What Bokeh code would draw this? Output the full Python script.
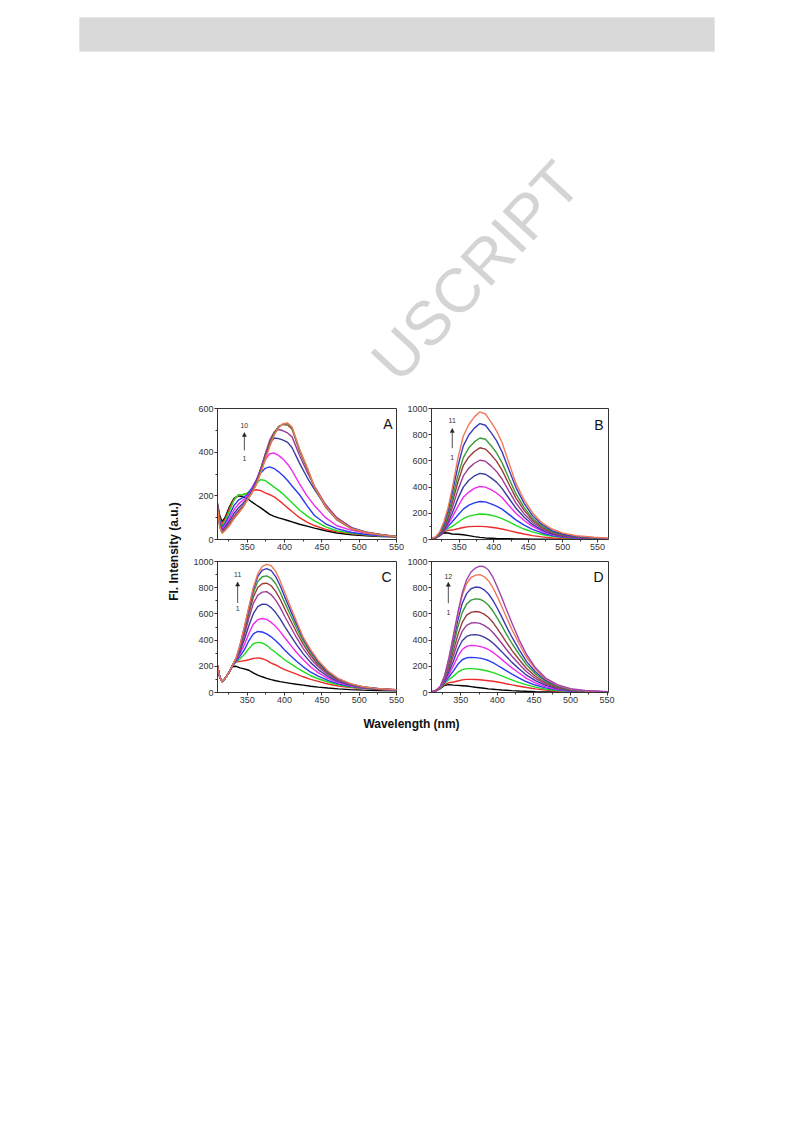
from bokeh.plotting import figure
from bokeh.layouts import column, row
from bokeh.models import Range1d, Label, Arrow, NormalHead, SingleIntervalTicker
from bokeh.embed import file_html
from bokeh.resources import INLINE

# ---------------- data ----------------
WL_A = [310, 313, 316, 320, 326, 332, 338, 344, 350, 356, 362, 368, 374, 380, 386, 392, 398, 404, 410, 420, 430, 440, 455, 470, 490, 510, 530, 550]
A1 = [165, 110, 82, 100, 150, 188, 200, 195, 188, 172, 158, 145, 130, 115, 106, 99, 93, 87, 81, 70, 61, 52, 40, 30, 22, 17, 14, 12]
A2 = [160, 100, 72, 92, 142, 185, 202, 205, 212, 222, 228, 224, 214, 205, 195, 180, 163, 145, 128, 100, 80, 64, 46, 35, 26, 20, 16, 12]
A3 = [158, 92, 62, 82, 130, 180, 205, 205, 212, 232, 258, 274, 270, 255, 240, 225, 208, 188, 168, 135, 108, 85, 58, 40, 28, 21, 16, 12]
A4 = [155, 85, 55, 72, 112, 155, 180, 192, 205, 235, 272, 305, 326, 333, 325, 310, 292, 270, 245, 205, 155, 110, 72, 50, 32, 23, 17, 12]
A5 = [152, 78, 48, 62, 98, 135, 162, 180, 198, 228, 272, 322, 365, 393, 396, 385, 368, 345, 315, 255, 200, 155, 100, 63, 42, 28, 19, 13]
A6 = [150, 72, 42, 55, 85, 118, 145, 165, 190, 222, 268, 325, 390, 440, 465, 462, 455, 445, 420, 350, 285, 230, 153, 98, 54, 33, 22, 14]
A7 = [148, 66, 36, 48, 75, 105, 132, 155, 185, 218, 262, 322, 392, 455, 492, 504, 498, 488, 470, 385, 310, 245, 160, 100, 52, 34, 22, 14]
A8 = [146, 62, 32, 44, 68, 98, 125, 150, 182, 214, 255, 310, 375, 440, 490, 518, 527, 524, 505, 405, 325, 238, 148, 90, 48, 31, 21, 13]
A9 = [145, 60, 30, 42, 66, 96, 122, 148, 182, 213, 253, 307, 370, 432, 484, 516, 529, 531, 510, 410, 330, 240, 150, 92, 48, 31, 21, 13]
A10 = [144, 58, 28, 40, 64, 94, 120, 146, 182, 212, 250, 304, 364, 425, 478, 512, 530, 534, 515, 415, 332, 242, 152, 93, 49, 31, 21, 13]

WL_B = [310, 316, 322, 328, 334, 340, 348, 356, 364, 372, 380, 388, 396, 404, 412, 422, 432, 444, 456, 470, 485, 500, 520, 545, 566]
B1 = [8, 10, 30, 52, 50, 42, 40, 36, 30, 22, 16, 12, 10, 8, 7, 6, 5, 4, 3, 3, 2, 2, 2, 1, 1]
B2 = [8, 12, 32, 60, 70, 72, 82, 92, 98, 100, 100, 98, 94, 88, 80, 68, 55, 42, 30, 20, 12, 8, 5, 3, 2]
B3 = [8, 12, 35, 65, 85, 100, 130, 160, 178, 188, 195, 193, 185, 175, 160, 135, 108, 80, 58, 38, 24, 15, 9, 5, 3]
B4 = [8, 12, 35, 65, 100, 135, 185, 232, 262, 280, 290, 287, 272, 255, 232, 192, 150, 110, 78, 50, 30, 18, 10, 6, 4]
B5 = [8, 12, 35, 68, 115, 170, 250, 322, 362, 390, 405, 400, 380, 355, 320, 260, 200, 145, 100, 63, 38, 22, 12, 7, 4]
B6 = [8, 13, 36, 72, 130, 200, 310, 400, 452, 485, 505, 498, 470, 438, 390, 315, 240, 170, 115, 72, 42, 25, 14, 8, 5]
B7 = [8, 14, 38, 80, 150, 240, 375, 485, 545, 582, 605, 598, 562, 520, 462, 370, 280, 195, 132, 82, 48, 28, 16, 9, 6]
B8 = [8, 15, 42, 90, 170, 280, 435, 565, 630, 672, 700, 690, 648, 598, 530, 422, 318, 222, 148, 92, 54, 32, 18, 10, 6]
B9 = [8, 16, 45, 100, 190, 310, 485, 625, 700, 745, 775, 765, 718, 662, 587, 466, 350, 243, 162, 100, 58, 35, 20, 11, 7]
B10 = [8, 18, 52, 118, 220, 355, 555, 715, 798, 850, 885, 872, 818, 755, 670, 532, 398, 276, 184, 113, 66, 40, 23, 13, 8]
B11 = [8, 20, 60, 135, 245, 390, 615, 790, 878, 936, 975, 958, 898, 830, 740, 585, 430, 302, 205, 127, 78, 49, 29, 17, 10]

WL_C = [310, 313, 316, 320, 325, 330, 335, 340, 346, 352, 358, 364, 370, 376, 382, 388, 394, 400, 408, 416, 425, 435, 445, 458, 472, 488, 505, 525, 550]
C1 = [205, 120, 82, 105, 150, 198, 200, 188, 180, 170, 150, 133, 120, 108, 98, 90, 83, 77, 70, 63, 56, 48, 41, 34, 28, 22, 18, 15, 13]
C2 = [205, 120, 82, 105, 150, 205, 232, 238, 242, 250, 260, 264, 258, 245, 225, 210, 192, 175, 158, 140, 120, 100, 85, 65, 50, 38, 30, 23, 18]
C3 = [205, 120, 82, 105, 150, 205, 235, 255, 290, 335, 372, 383, 378, 360, 330, 305, 278, 250, 220, 190, 160, 128, 105, 80, 58, 42, 32, 24, 18]
C4 = [205, 120, 82, 105, 150, 205, 240, 275, 325, 395, 448, 466, 462, 448, 425, 395, 362, 325, 280, 238, 196, 155, 125, 92, 66, 47, 34, 25, 19]
C5 = [205, 120, 82, 105, 150, 205, 245, 292, 365, 450, 522, 556, 565, 558, 535, 505, 465, 420, 362, 305, 250, 195, 152, 108, 75, 52, 36, 26, 19]
C6 = [205, 120, 82, 105, 150, 205, 250, 310, 405, 510, 602, 655, 675, 672, 648, 610, 562, 505, 435, 365, 295, 228, 175, 122, 83, 56, 38, 27, 20]
C7 = [205, 120, 82, 105, 150, 205, 255, 325, 438, 565, 680, 742, 766, 770, 746, 705, 650, 582, 500, 418, 335, 258, 196, 135, 90, 59, 40, 28, 20]
C8 = [205, 120, 82, 105, 150, 205, 258, 338, 462, 602, 728, 802, 830, 835, 815, 772, 712, 640, 550, 460, 368, 282, 212, 145, 96, 62, 41, 29, 20]
C9 = [205, 120, 82, 105, 150, 205, 260, 348, 482, 628, 762, 848, 884, 890, 872, 830, 765, 688, 590, 492, 392, 300, 225, 153, 100, 64, 42, 29, 20]
C10 = [205, 120, 82, 105, 150, 205, 262, 355, 494, 642, 787, 885, 934, 945, 930, 885, 815, 732, 625, 520, 410, 316, 235, 158, 103, 66, 43, 30, 21]
C11 = [205, 120, 82, 105, 150, 205, 265, 360, 502, 652, 802, 905, 962, 978, 968, 925, 852, 765, 652, 542, 420, 325, 245, 165, 107, 68, 44, 30, 21]

WL_D = [310, 316, 322, 328, 334, 340, 346, 352, 358, 364, 370, 376, 382, 388, 394, 400, 406, 412, 420, 430, 440, 452, 466, 482, 500, 520, 552]
D1 = [5, 12, 30, 55, 60, 56, 54, 52, 50, 45, 40, 36, 32, 28, 25, 22, 19, 17, 14, 11, 9, 7, 5, 4, 3, 2, 1]
D2 = [5, 12, 32, 62, 75, 80, 88, 96, 100, 100, 99, 97, 94, 90, 86, 80, 74, 67, 58, 48, 38, 28, 18, 11, 6, 3, 2]
D3 = [5, 13, 35, 70, 100, 125, 155, 175, 182, 182, 180, 176, 170, 162, 152, 140, 127, 113, 96, 76, 58, 41, 26, 15, 8, 4, 2]
D4 = [5, 13, 38, 78, 120, 165, 215, 250, 265, 268, 266, 262, 255, 244, 228, 208, 188, 167, 141, 110, 82, 57, 35, 20, 10, 5, 3]
D5 = [5, 14, 40, 85, 140, 205, 275, 328, 352, 360, 358, 352, 342, 328, 306, 280, 253, 224, 188, 147, 108, 74, 45, 25, 13, 6, 3]
D6 = [5, 14, 42, 92, 160, 240, 330, 395, 428, 440, 442, 436, 422, 404, 378, 345, 312, 276, 230, 180, 132, 90, 54, 30, 15, 7, 3]
D7 = [5, 14, 43, 100, 180, 280, 385, 468, 512, 530, 533, 528, 512, 490, 458, 418, 376, 332, 277, 215, 158, 107, 64, 35, 17, 8, 4]
D8 = [5, 15, 44, 108, 200, 320, 440, 535, 590, 612, 618, 614, 598, 572, 535, 488, 438, 387, 322, 250, 183, 124, 74, 40, 19, 9, 4]
D9 = [5, 15, 44, 115, 225, 360, 500, 610, 675, 705, 715, 712, 695, 666, 622, 568, 510, 450, 374, 290, 211, 142, 84, 45, 21, 10, 4]
D10 = [5, 15, 45, 120, 245, 395, 550, 680, 755, 792, 805, 802, 784, 752, 703, 643, 577, 509, 422, 326, 236, 158, 93, 50, 24, 11, 5]
D11 = [5, 15, 45, 125, 260, 425, 595, 740, 830, 878, 895, 900, 885, 852, 800, 732, 657, 580, 480, 370, 267, 178, 104, 55, 26, 12, 5]
D12 = [5, 15, 45, 130, 270, 440, 610, 760, 860, 920, 950, 965, 960, 935, 880, 805, 725, 640, 530, 400, 290, 190, 110, 60, 30, 15, 6]

COLORS = ["#000000", "#ee2b2b", "#1fdc1f", "#2b3bf0", "#f227f2", "#3a3a9e",
          "#9a3d9a", "#9c3b3b", "#3a9a3a", "#3a3ab8", "#f0785a", "#9e44b0"]
COLORS_A = ["#000000", "#ee2b2b", "#1fdc1f", "#2b3bf0", "#f227f2", "#3a3a9e",
            "#9a3d9a", "#9c3b3b", "#3a9a3a", "#f0785a"]

PANEL_LETTERS = ["A", "B", "C", "D"]
ARROW_TOP_LABELS = ["10", "11", "11", "12"]
ARROW_BOTTOM_LABEL = "1"
X_LABEL = "Wavelength (nm)"
Y_LABEL = "Fl. Intensity (a.u.)"
WATERMARK = "USCRIPT"

FONT = "Liberation Sans"


def make_panel(wl, curves, colors, x_end, y_end, width, height, bl, br, bt, bb,
               letter, letter_xy, arr_x, arr_top_lbl, arr_ys):
    p = figure(width=width, height=height, x_range=Range1d(310, x_end),
               y_range=Range1d(0, y_end), output_backend="svg",
               toolbar_location=None, min_border_left=bl, min_border_right=br,
               min_border_top=bt, min_border_bottom=bb)
    p.background_fill_color = "white"
    p.border_fill_color = "white"
    p.xgrid.visible = False
    p.ygrid.visible = False
    p.outline_line_color = "#333333"
    p.outline_line_width = 1
    p.xaxis.ticker = SingleIntervalTicker(interval=50, num_minor_ticks=2)
    p.yaxis.ticker = SingleIntervalTicker(interval=200, num_minor_ticks=2)
    for ax in p.axis:
        ax.major_tick_in = 0
        ax.major_tick_out = 3
        ax.minor_tick_in = 0
        ax.minor_tick_out = 2
        ax.major_label_text_font_size = "9px"
        ax.major_label_text_font = FONT
        ax.major_label_text_color = "#333333"
        ax.axis_line_color = "#333333"
        ax.major_tick_line_color = "#333333"
        ax.minor_tick_line_color = "#333333"
        ax.major_label_standoff = 1
    for i, ys in enumerate(curves):
        p.line(wl, ys, line_color=colors[i], line_width=1.4)
    p.add_layout(Label(x=letter_xy[0], y=letter_xy[1], text=letter,
                       text_font=FONT, text_font_size="14px",
                       text_align="right", text_baseline="alphabetic",
                       text_color="#111111"))
    y_lbl_top, y_tip, y_bot, y_lbl_bot = arr_ys
    p.add_layout(Arrow(end=NormalHead(size=4, fill_color="#222222",
                                      line_color="#222222", line_width=0.5),
                       x_start=arr_x, y_start=y_bot, x_end=arr_x, y_end=y_tip,
                       line_color="#222222", line_width=0.8))
    p.add_layout(Label(x=arr_x, y=y_lbl_top, text=arr_top_lbl, text_font=FONT,
                       text_font_size="7px", text_align="center",
                       text_baseline="middle", text_color="#333333"))
    p.add_layout(Label(x=arr_x, y=y_lbl_bot, text=ARROW_BOTTOM_LABEL,
                       text_font=FONT, text_font_size="7px",
                       text_align="center", text_baseline="middle",
                       text_color="#333333"))
    return p


pA = make_panel(WL_A, [A1, A2, A3, A4, A5, A6, A7, A8, A9, A10], COLORS_A,
                550, 600, 214, 155, 27, 8, 8, 16, PANEL_LETTERS[0], (544.6, 527),
                346, ARROW_TOP_LABELS[0], (522, 490, 408, 371))
pB = make_panel(WL_B, [B1, B2, B3, B4, B5, B6, B7, B8, B9, B10, B11], COLORS,
                566, 1000, 216, 155, 25, 12, 8, 16, PANEL_LETTERS[1], (559, 871),
                340, ARROW_TOP_LABELS[1], (909, 848, 697, 629))
pC = make_panel(WL_C, [C1, C2, C3, C4, C5, C6, C7, C8, C9, C10, C11], COLORS,
                550, 1000, 214, 153, 27, 8, 6, 16, PANEL_LETTERS[2], (543.3, 878),
                337, ARROW_TOP_LABELS[2], (904, 843, 684, 638))
pD = make_panel(WL_D, [D1, D2, D3, D4, D5, D6, D7, D8, D9, D10, D11, D12], COLORS,
                552, 1000, 216, 153, 25, 12, 6, 16, PANEL_LETTERS[3], (545.2, 879),
                333, ARROW_TOP_LABELS[3], (886, 841, 682, 614))


def blank(width, height):
    f = figure(width=width, height=height, x_range=Range1d(0, width),
               y_range=Range1d(height, 0), output_backend="svg",
               toolbar_location=None, min_border=0)
    f.xaxis.visible = False
    f.yaxis.visible = False
    f.xgrid.visible = False
    f.ygrid.visible = False
    f.outline_line_color = None
    f.background_fill_color = "white"
    f.border_fill_color = "white"
    return f


# page header area (gray bar + watermark), in page pixel coordinates
top = blank(785, 400)
top.quad(left=[79], right=[714], top=[17], bottom=[51],
         fill_color="#d9d9d9", line_color="#e6e6e6", line_width=1)
top.add_layout(Label(x=568, y=171, text=WATERMARK, text_font=FONT,
                     text_font_size="62px", text_color="#d4d4d4",
                     text_align="right", text_baseline="alphabetic",
                     angle=47, angle_units="deg"))

ylab = blank(190, 308)
ylab.add_layout(Label(x=173, y=151, text=Y_LABEL, text_font=FONT,
                      text_font_size="12px", text_font_style="bold",
                      text_align="center", text_baseline="middle",
                      angle=90, angle_units="deg", text_color="#111111"))

xlab = blank(620, 32)
xlab.add_layout(Label(x=411, y=15, text=X_LABEL, text_font=FONT,
                      text_font_size="12px", text_font_style="bold",
                      text_align="center", text_baseline="middle",
                      text_color="#111111"))

layout = column(top,
                row(ylab, column(row(pA, pB), row(pC, pD))),
                xlab)

open("out.html", "w").write(file_html(layout, INLINE))
